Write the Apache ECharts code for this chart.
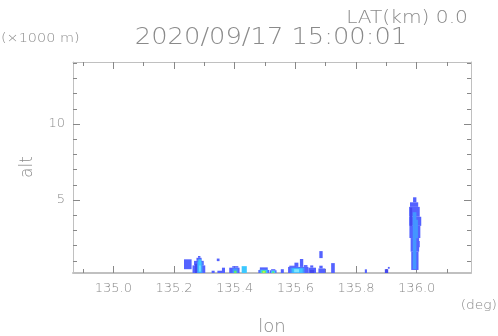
<!DOCTYPE html>
<html>
<head>
<meta charset="utf-8">
<script src="https://cdn.jsdelivr.net/npm/echarts@6/dist/echarts.min.js"></script>
<style>
  html, body { margin: 0; padding: 0; background: #fff; }
  #chart { width: 498px; height: 336px; }
</style>
</head>
<body>
<div id="chart"></div>
<script>
// tick values
const lonMajorTicks = [135.0, 135.2, 135.4, 135.6, 135.8, 136.0]
const lonMinorTicks = [134.9, 135.1, 135.3, 135.5, 135.7, 135.9, 136.1]
const altMajorTicks = [5, 10]
const altMinorTicks = [1, 2, 3, 4, 6, 7, 8, 9, 11, 12, 13, 14]

const titleText = '2020/09/17 15:00:01'
const latText = 'LAT(km) 0.0'

// echo cells: [lon0, lon1, altBottom(km), altTop(km), level]
const echoWest = [
  [135.233, 135.258, 0.45, 1.1, 1],
  [135.261, 135.303, 0.2, 0.7, 1],
  [135.266, 135.298, 0.7, 1.0, 1],
  [135.274, 135.291, 1.0, 1.2, 1],
  [135.279, 135.287, 1.2, 1.32, 1],
  [135.269, 135.276, 0.2, 0.8, 2],
  [135.276, 135.294, 0.2, 0.95, 3],
  [135.280, 135.290, 0.25, 1.1, 4],
  [135.283, 135.288, 0.3, 0.7, 5],
  [135.324, 135.334, 0.2, 0.35, 1],
  [135.341, 135.350, 0.98, 1.15, 1],
  [135.343, 135.362, 0.2, 0.35, 1],
  [135.358, 135.368, 0.2, 0.55, 1],
  [135.382, 135.416, 0.2, 0.55, 1],
  [135.392, 135.412, 0.55, 0.65, 1],
  [135.393, 135.410, 0.2, 0.5, 3],
  [135.398, 135.406, 0.2, 0.35, 6],
  [135.423, 135.440, 0.2, 0.65, 4],
]

const echoMid = [
  [135.478, 135.514, 0.2, 0.4, 1],
  [135.483, 135.509, 0.4, 0.57, 1],
  [135.482, 135.510, 0.2, 0.42, 3],
  [135.486, 135.506, 0.2, 0.4, 4],
  [135.489, 135.503, 0.2, 0.36, 6],
  [135.493, 135.499, 0.22, 0.32, 7],
  [135.516, 135.538, 0.2, 0.38, 1],
  [135.520, 135.534, 0.38, 0.45, 1],
  [135.520, 135.534, 0.2, 0.36, 4],
  [135.524, 135.530, 0.2, 0.3, 6],
  [135.552, 135.562, 0.2, 0.45, 1],
  [135.576, 135.643, 0.2, 0.6, 1],
  [135.580, 135.600, 0.6, 0.68, 1],
  [135.597, 135.610, 0.6, 0.88, 1],
  [135.615, 135.626, 0.6, 1.12, 1],
  [135.628, 135.640, 0.6, 0.72, 1],
  [135.584, 135.630, 0.2, 0.55, 3],
  [135.590, 135.624, 0.22, 0.5, 4],
  [135.596, 135.612, 0.25, 0.45, 5],
  [135.643, 135.668, 0.2, 0.55, 1],
  [135.649, 135.659, 0.55, 0.7, 1],
  [135.648, 135.662, 0.2, 0.4, 2],
  [135.676, 135.699, 0.2, 0.5, 1],
  [135.679, 135.690, 0.5, 0.68, 1],
  [135.679, 135.690, 1.18, 1.64, 1],
  [135.718, 135.730, 0.2, 0.85, 1],
]

const echoEast = [
  [135.829, 135.836, 0.2, 0.44, 1],
  [135.895, 135.906, 0.2, 0.45, 2],
  [135.905, 135.911, 0.48, 0.6, 1],
  // tall cell near 136.0
  [135.988, 135.999, 4.85, 5.18, 1],
  [135.978, 136.005, 4.55, 4.85, 1],
  [135.975, 136.010, 3.9, 4.55, 1],
  [135.975, 136.015, 3.3, 3.9, 1],
  [135.976, 136.012, 2.5, 3.3, 1],
  [135.980, 136.008, 1.6, 2.5, 1],
  [135.982, 136.006, 0.4, 1.6, 1],
  [136.006, 136.010, 1.9, 2.3, 1],
  [135.978, 135.985, 3.3, 4.5, 2],
  [135.987, 135.999, 0.45, 4.2, 3],
  [135.993, 136.004, 2.5, 3.7, 3],
]

const levelColors = ['#ffffff', '#5462ff', '#4448ee', '#4496ff', '#3cc8ff', '#7ee6ff', '#5cf06c', '#d8f040']

const textColor = '#8a8a8a'
const frameColor = '#c0c0c0'
const tickColor = '#888'
const fontName = '"DejaVu Sans"'

const chart = echarts.init(document.getElementById('chart'))

const renderCell = (params, api) => {
  const p0 = api.coord([api.value(0), api.value(2)])
  const p1 = api.coord([api.value(1), api.value(3)])
  return {
    type: 'rect',
    shape: {
      x: p0[0],
      y: p1[1],
      width: p1[0] - p0[0],
      height: p0[1] - p1[1],
    },
    style: { fill: levelColors[api.value(4)] },
  }
}

const xAxisBase = (position, ticks, len, showLine, showLabel) => ({
  type: 'value',
  position: position,
  min: 134.867,
  max: 136.179,
  splitLine: { show: false },
  axisLine: {
    show: showLine,
    onZero: false,
    lineStyle: { color: frameColor, width: position === 'bottom' ? 2 : 1 },
  },
  axisTick: {
    show: true,
    inside: true,
    length: len,
    customValues: ticks,
    lineStyle: { color: tickColor },
  },
  axisLabel: {
    show: showLabel,
    customValues: ticks,
    margin: 9,
    color: textColor,
    fontFamily: 'DejaVu Sans',
    fontWeight: 200,
    fontSize: 13,
    formatter: (v) => v.toFixed(1),
  },
})

const yAxisBase = (position, ticks, len, showLine, showLabel) => ({
  type: 'value',
  position: position,
  min: 0.2,
  max: 14.08,
  splitLine: { show: false },
  axisLine: {
    show: showLine,
    onZero: false,
    lineStyle: { color: frameColor, width: 1 },
  },
  axisTick: {
    show: true,
    inside: true,
    length: len,
    customValues: ticks,
    lineStyle: { color: tickColor },
  },
  axisLabel: {
    show: showLabel,
    customValues: ticks,
    margin: 8,
    color: textColor,
    fontFamily: 'DejaVu Sans',
    fontWeight: 200,
    fontSize: 13,
  },
})

const cellSeries = (name, data) => ({
  name: name,
  type: 'custom',
  xAxisIndex: 0,
  yAxisIndex: 0,
  clip: true,
  silent: true,
  renderItem: renderCell,
  encode: { x: [0, 1], y: [2, 3] },
  data: data,
})

const label = (text, x, y, size, align, extra) => Object.assign({
  type: 'text', x: x, y: y,
  style: { text: text, font: '200 ' + size + 'px ' + fontName, fill: textColor, align: align, verticalAlign: 'middle' },
}, extra || {})

const option = {
  animation: false,
  grid: { left: 73, top: 62, right: 27, bottom: 63, containLabel: false },
  xAxis: [
    xAxisBase('bottom', lonMajorTicks, 7, true, true),
    xAxisBase('bottom', lonMinorTicks, 4, false, false),
    xAxisBase('top', lonMajorTicks, 7, true, false),
    xAxisBase('top', lonMinorTicks, 4, false, false),
  ],
  yAxis: [
    yAxisBase('left', altMajorTicks, 7, true, true),
    yAxisBase('left', altMinorTicks, 4, false, false),
    yAxisBase('right', altMajorTicks, 7, true, false),
    yAxisBase('right', altMinorTicks, 4, false, false),
  ],
  series: [
    cellSeries('west', echoWest),
    cellSeries('mid', echoMid),
    cellSeries('east', echoEast),
  ],
  graphic: [
    label(latText, 407, 18, 18, 'center', { scaleX: 1.12 }),
    label(titleText, 271, 38, 23, 'center', { scaleX: 1.12 }),
    label('(×1000 m)', 1, 39, 12, 'left', { scaleX: 1.2 }),
    label('alt', 28, 167, 17, 'center', { rotation: Math.PI / 2 }),
    label('lon', 272, 327, 18, 'center'),
    label('(deg)', 497, 306, 12, 'right', { scaleX: 1.15 }),
  ],
}

chart.setOption(option)
</script>
</body>
</html>
